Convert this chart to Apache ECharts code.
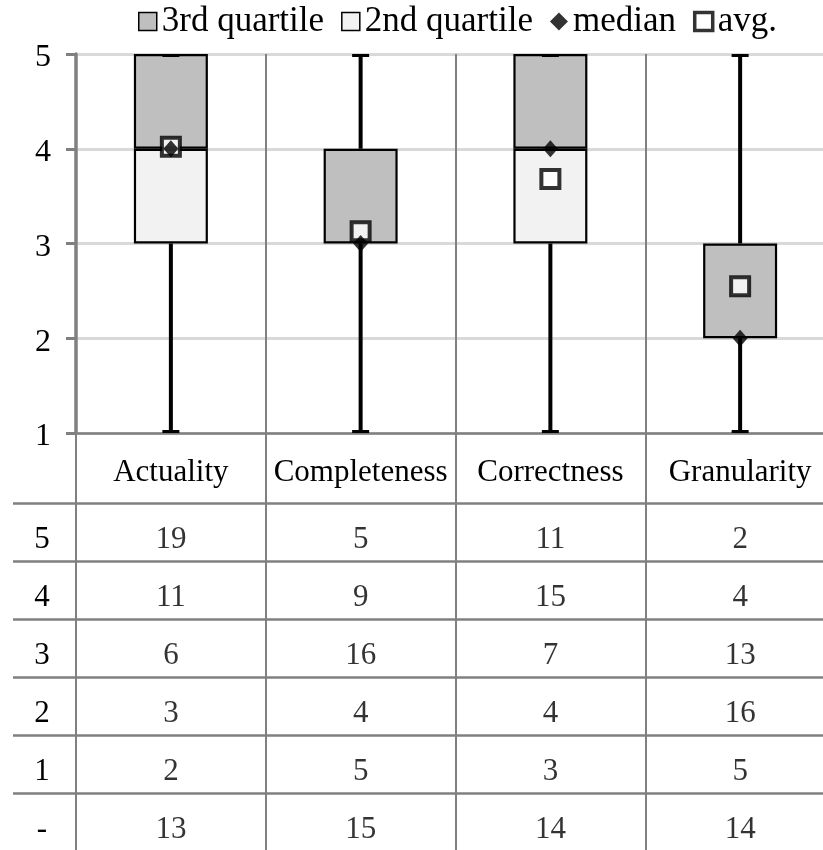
<!DOCTYPE html>
<html>
<head>
<meta charset="utf-8">
<script src="https://cdn.jsdelivr.net/npm/echarts@6/dist/echarts.min.js"></script>
<style>html,body{margin:0;padding:0;background:#fff}#chart{width:823px;height:850px}</style>
</head>
<body>
<div id="chart"></div>
<script>
const categories = ['Actuality', 'Completeness', 'Correctness', 'Granularity'];
const whiskerLow = [1, 1, 1, 1];
const quartile1 = [3, 3, 3, 2];
const medians = [4, 3, 4, 2];
const quartile3 = [5, 4, 5, 3];
const whiskerHigh = [5, 5, 5, 5];
const averages = [4.02, 3.13, 3.68, 2.55];

const ratingRows = ['5', '4', '3', '2', '1', '-'];
const countsActuality = [19, 11, 6, 3, 2, 13];
const countsCompleteness = [5, 9, 16, 4, 5, 15];
const countsCorrectness = [11, 15, 7, 4, 3, 14];
const countsGranularity = [2, 4, 13, 16, 5, 14];

const FONT = "'Liberation Serif', 'Times New Roman', serif";
const LINE_GRAY = '#808080';

const countColumns = [countsActuality, countsCompleteness, countsCorrectness, countsGranularity];
const tableData = [];
countColumns.forEach((col, c) => col.forEach((v, r) => tableData.push([c, r, v])));

const boxData = categories.map((_, i) => [i, whiskerLow[i], quartile1[i], quartile3[i], whiskerHigh[i]]);

function segment(v) {
  return v === 0 ? {value: v, itemStyle: {borderWidth: 0}} : v;
}

const chart = echarts.init(document.getElementById('chart'), null, {renderer: 'canvas'});
chart.setOption({
  animation: false,
  backgroundColor: '#fff',
  legend: {
    left: 133, top: -1, itemWidth: 18, itemHeight: 18, itemGap: 17,
    selectedMode: false,
    textStyle: {fontFamily: FONT, fontSize: 35, color: '#000'},
    data: [
      {name: '3rd quartile', icon: 'rect', itemStyle: {color: '#bfbfbf', borderColor: '#000', borderWidth: 1.5}},
      {name: '2nd quartile', icon: 'rect', itemStyle: {color: '#f2f2f2', borderColor: '#000', borderWidth: 1.5}},
      {name: 'median', icon: 'diamond', itemStyle: {color: '#000'}},
      {name: 'avg.', icon: 'rect', itemStyle: {color: '#fff', borderColor: '#000', borderWidth: 3.5}}
    ]
  },
  grid: [
    {left: 76, top: 54, width: 759, height: 379, outerBoundsMode: 'none'},
    {left: 76, top: 503, width: 759, height: 348, outerBoundsMode: 'none'},
    {left: 76, top: 54, width: 759, height: 797, outerBoundsMode: 'none'}
  ],
  xAxis: [
    {
      gridIndex: 0, type: 'category', data: categories,
      axisLine: {show: true, lineStyle: {color: LINE_GRAY, width: 2.5}},
      axisTick: {show: false},
      axisLabel: {interval: 0, fontFamily: FONT, fontSize: 31, color: '#000', margin: 24},
      splitLine: {show: false}
    },
    {
      gridIndex: 1, type: 'category', data: categories,
      axisLine: {show: false}, axisTick: {show: false}, axisLabel: {show: false}, splitLine: {show: false}
    },
    {
      gridIndex: 2, type: 'category', data: categories,
      axisLine: {show: false}, axisTick: {show: false}, axisLabel: {show: false},
      splitLine: {show: true, interval: 0, lineStyle: {color: LINE_GRAY, width: 2}}
    }
  ],
  yAxis: [
    {
      gridIndex: 0, type: 'value', min: 1, max: 5, interval: 1,
      axisLine: {show: true, lineStyle: {color: LINE_GRAY, width: 3.5}},
      axisTick: {show: true, length: 10, lineStyle: {color: LINE_GRAY, width: 3}},
      axisLabel: {
        fontFamily: FONT, fontSize: 32, color: '#000', margin: 25,
        formatter: v => '{t|' + v + '}',
        rich: {t: {fontFamily: FONT, fontSize: 32, color: '#000', padding: [8, 0, 0, 0]}}
      },
      splitLine: {show: true, lineStyle: {color: '#d9d9d9', width: 3}}
    },
    {
      gridIndex: 1, type: 'category', data: ratingRows, inverse: true, z: 5,
      axisLine: {show: false},
      axisTick: {show: true, interval: 0, length: 63, lineStyle: {color: LINE_GRAY, width: 2.5}},
      axisLabel: {
        interval: 0, fontFamily: FONT, fontSize: 31, color: '#000', margin: 34, align: 'center',
        formatter: v => '{t|' + v + '}',
        rich: {t: {fontFamily: FONT, fontSize: 31, color: '#000', padding: [16, 0, 0, 0]}}
      },
      splitLine: {show: true, interval: 0, lineStyle: {color: LINE_GRAY, width: 2.5}}
    },
    {
      gridIndex: 2, type: 'value', show: false, splitLine: {show: false}
    }
  ],
  series: [
    {
      name: 'base', type: 'bar', stack: 'box', xAxisIndex: 0, yAxisIndex: 0,
      barWidth: 74, silent: true, clip: false,
      itemStyle: {color: 'rgba(0,0,0,0)'},
      data: quartile1
    },
    {
      name: '2nd quartile', type: 'bar', stack: 'box', xAxisIndex: 0, yAxisIndex: 0,
      barWidth: 74, clip: false,
      itemStyle: {color: '#f2f2f2', borderColor: '#000', borderWidth: 2.2},
      data: medians.map((m, i) => segment(m - quartile1[i]))
    },
    {
      name: '3rd quartile', type: 'bar', stack: 'box', xAxisIndex: 0, yAxisIndex: 0,
      barWidth: 74, clip: false,
      itemStyle: {color: '#bfbfbf', borderColor: '#000', borderWidth: 2.2},
      data: quartile3.map((q, i) => segment(q - medians[i]))
    },
    {
      name: 'whiskers', type: 'custom', xAxisIndex: 0, yAxisIndex: 0, z: 3, clip: false,
      data: boxData,
      renderItem: function (params, api) {
        const x = api.value(0);
        const pLow = api.coord([x, api.value(1)]);
        const pQ1 = api.coord([x, api.value(2)]);
        const pQ3 = api.coord([x, api.value(3)]);
        const pHigh = api.coord([x, api.value(4)]);
        const half = 8.5;
        const st = {stroke: '#000', lineWidth: 4};
        const cap = {stroke: '#000', lineWidth: 3};
        return {
          type: 'group',
          children: [
            {type: 'line', shape: {x1: pLow[0], y1: pLow[1], x2: pQ1[0], y2: pQ1[1]}, style: st},
            {type: 'line', shape: {x1: pQ3[0], y1: pQ3[1], x2: pHigh[0], y2: pHigh[1]}, style: st},
            {type: 'line', shape: {x1: pLow[0] - half, y1: pLow[1] - 1.5, x2: pLow[0] + half, y2: pLow[1] - 1.5}, style: cap},
            {type: 'line', shape: {x1: pHigh[0] - half, y1: pHigh[1] + 1.5, x2: pHigh[0] + half, y2: pHigh[1] + 1.5}, style: cap}
          ]
        };
      }
    },
    {
      name: 'avg.', type: 'scatter', xAxisIndex: 0, yAxisIndex: 0, z: 4,
      symbol: 'rect', symbolSize: 18,
      itemStyle: {color: '#fff', borderColor: '#000', borderWidth: 4},
      data: averages
    },
    {
      name: 'median', type: 'scatter', xAxisIndex: 0, yAxisIndex: 0, z: 5,
      symbol: 'diamond', symbolSize: [15, 17],
      itemStyle: {color: '#000'},
      data: medians
    },
    {
      name: 'table', type: 'scatter', xAxisIndex: 1, yAxisIndex: 1,
      symbol: 'circle', symbolSize: 1, silent: true,
      itemStyle: {color: 'rgba(0,0,0,0)'},
      label: {
        show: true, position: 'inside', offset: [0, 8], fontFamily: FONT, fontSize: 31, color: '#000',
        formatter: p => String(p.value[2])
      },
      data: tableData
    }
  ]
});
</script>
</body>
</html>
